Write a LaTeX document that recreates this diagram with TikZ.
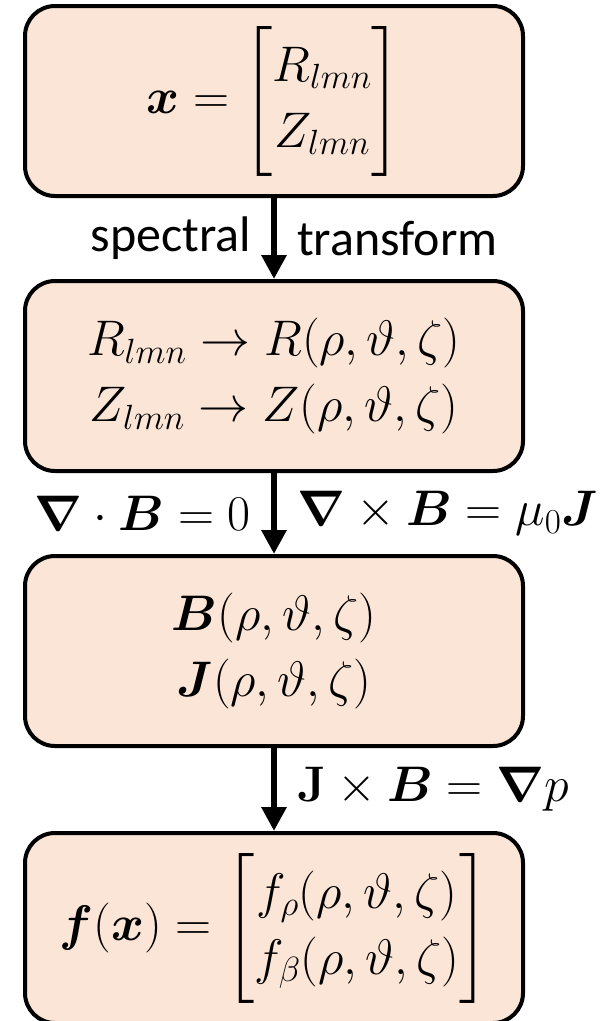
\documentclass[tikz,border=0pt]{standalone}
\usepackage{fix-cm}
\usepackage{amsmath,amssymb}
\usepackage[no-math]{fontspec}
\setmainfont{Carlito}
\usepackage{xcolor}
\usepackage{tikz}
\usetikzlibrary{arrows.meta,positioning}
\definecolor{peach}{HTML}{FBE5D6}
\tikzset{
  ar/.style={-{Triangle[length=24pt,width=24pt]},line width=6pt},
  box/.style={draw,line width=4pt,rounded corners=30pt,fill=peach,align=center,minimum width=498pt,minimum height=190pt,inner sep=0pt,font=\fontsize{50}{66}\selectfont},
  lbl/.style={font=\fontsize{50}{56}\selectfont,inner xsep=20pt,inner ysep=2pt}
}

\begin{document}
\begin{tikzpicture}[x=1pt,y=-1pt,node distance=81pt]
\useasboundingbox (0,0) rectangle (605,1021);
\node[box] (x) at (274,101) {$\boldsymbol{x}=\begin{bmatrix}R_{lmn}\\ Z_{lmn}\end{bmatrix}$};
\node[box,below=of x] (rz) {$R_{lmn}\to R(\rho,\vartheta,\zeta)$\\ $Z_{lmn}\to Z(\rho,\vartheta,\zeta)$};
\node[box,below=of rz] (bj) {$\boldsymbol{B}(\rho,\vartheta,\zeta)$\\ $\boldsymbol{J}(\rho,\vartheta,\zeta)$};
\node[box,below=of bj,yshift=-2pt] (f) {$\boldsymbol{f}(\boldsymbol{x})=\begin{bmatrix}f_\rho(\rho,\vartheta,\zeta)\\ f_\beta(\rho,\vartheta,\zeta)\end{bmatrix}$};
% transforms between the boxes
\draw[ar] (x) -- node[lbl,left]{spectral} node[lbl,right]{transform} (rz);
\draw[ar] (rz) -- node[lbl,left]{$\boldsymbol{\nabla}\cdot\boldsymbol{B}=0$} node[lbl,right]{$\boldsymbol{\nabla}\times\boldsymbol{B}=\mu_0\boldsymbol{J}$} (bj);
\draw[ar] (bj) -- node[lbl,right]{$\mathbf{J}\times\boldsymbol{B}=\boldsymbol{\nabla}p$} (f);
\end{tikzpicture}
\end{document}
